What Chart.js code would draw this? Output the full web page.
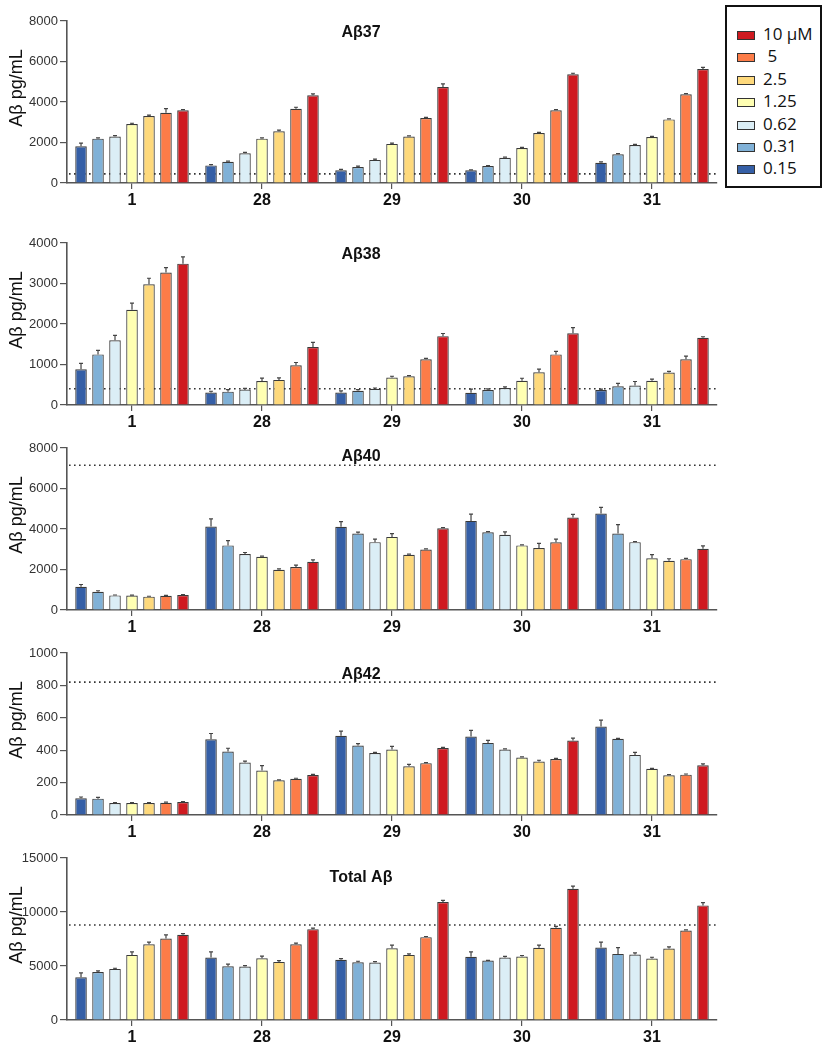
<!DOCTYPE html>
<html>
<head>
<meta charset="utf-8">
<script src="https://cdn.jsdelivr.net/npm/chart.js@4.4.1/dist/chart.umd.min.js"></script>
<style>
  body { margin: 0; background: #fff; }
  #wrap { position: relative; width: 830px; height: 1050px; }
  canvas { position: absolute; left: 0; }
  #legend { position: absolute; left: 725px; top: 5px; width: 93px; height: 179px;
            border: 2px solid #111; font-family: "Open Sans", sans-serif; font-size: 17px; color: #111; }
  .item { position: absolute; left: 10px; height: 22px; line-height: 22px; }
  .sw { position: absolute; left: 0; top: 7px; width: 16px; height: 7px; border: 1px solid #333; }
  .lb { position: absolute; left: 26px; top: -1px; white-space: pre; }
</style>
</head>
<body>
<div id="wrap">
  <canvas id="c0" width="720" height="207"></canvas>
  <canvas id="c1" width="720" height="207"></canvas>
  <canvas id="c2" width="720" height="207"></canvas>
  <canvas id="c3" width="720" height="207"></canvas>
  <canvas id="c4" width="720" height="207"></canvas>
  <div id="legend"></div>
</div>
<script>
// categories and doses
var groups = ['1', '28', '29', '30', '31'];
var doses = ['0.15', '0.31', '0.62', '1.25', '2.5', '5', '10 µM'];
var legendLabels = ['0.15', '0.31', '0.62', '1.25', '2.5', ' 5', '10 µM'];
var colors = ['#355fa6', '#80b1d7', '#dbeef6', '#ffffb3', '#fed97c', '#fc7c48', '#cf1a20'];

// values per group (row = compound, column = dose)
var ab37 = [
  [1810, 2190, 2300, 2910, 3310, 3470, 3590],
  [870, 1050, 1470, 2190, 2550, 3670, 4330],
  [630, 790, 1140, 1930, 2300, 3210, 4740],
  [630, 840, 1250, 1730, 2470, 3590, 5370],
  [1000, 1420, 1880, 2270, 3140, 4380, 5630]
];
var ab37err = [
  [160, 40, 40, 40, 40, 200, 30],
  [40, 30, 40, 40, 60, 70, 70],
  [40, 40, 40, 40, 30, 30, 160],
  [20, 20, 30, 30, 30, 30, 50],
  [40, 30, 30, 30, 30, 30, 80]
];
var ab38 = [
  [880, 1250, 1600, 2350, 2980, 3270, 3490],
  [310, 330, 380, 590, 620, 980, 1430],
  [310, 350, 400, 680, 710, 1130, 1700],
  [300, 370, 420, 600, 810, 1250, 1770],
  [370, 460, 480, 600, 800, 1130, 1660]
];
var ab38err = [
  [150, 100, 120, 165, 150, 120, 165],
  [30, 50, 30, 75, 50, 70, 115],
  [40, 30, 20, 30, 15, 20, 65],
  [90, 30, 30, 60, 75, 75, 140],
  [20, 75, 100, 40, 30, 75, 25]
];
var ab40 = [
  [1150, 900, 720, 710, 660, 700, 740],
  [4120, 3190, 2760, 2630, 1990, 2120, 2380],
  [4110, 3780, 3350, 3610, 2730, 2990, 4040],
  [4400, 3840, 3710, 3190, 3060, 3340, 4570],
  [4760, 3780, 3350, 2550, 2430, 2510, 3020]
];
var ab40err = [
  [110, 50, 20, 20, 20, 20, 20],
  [380, 240, 80, 30, 40, 100, 100],
  [250, 70, 150, 160, 30, 30, 30],
  [330, 30, 150, 30, 230, 160, 150],
  [310, 440, 30, 180, 100, 40, 150]
];
var ab42 = [
  [103, 101, 74, 74, 74, 76, 80],
  [468, 392, 324, 274, 214, 223, 247],
  [489, 429, 383, 404, 301, 320, 414],
  [485, 445, 404, 355, 330, 346, 460],
  [546, 470, 371, 285, 245, 249, 307]
];
var ab42err = [
  [8, 8, 3, 3, 3, 3, 3],
  [35, 20, 8, 31, 3, 4, 4],
  [29, 12, 3, 19, 12, 3, 3],
  [37, 16, 4, 4, 8, 3, 14],
  [40, 3, 15, 3, 4, 4, 8]
];
var abTotal = [
  [3960, 4450, 4730, 6030, 7020, 7550, 7890],
  [5780, 4980, 4950, 5720, 5380, 7020, 8410],
  [5570, 5350, 5320, 6650, 6030, 7670, 10920],
  [5850, 5500, 5780, 5880, 6680, 8540, 12150],
  [6710, 6120, 6060, 5690, 6620, 8290, 10610]
];
var abTotalErr = [
  [400, 90, 60, 280, 190, 340, 110],
  [520, 190, 90, 190, 120, 90, 90],
  [120, 90, 90, 280, 90, 60, 150],
  [460, 30, 120, 90, 250, 120, 250],
  [500, 590, 150, 120, 150, 60, 250]
];

var titles = ['Aβ37', 'Aβ38', 'Aβ40', 'Aβ42', 'Total Aβ'];
var refLines = [450, 400, 7150, 820, 8800];
var yMax = [8000, 4000, 8000, 1000, 15000];
var ySteps = [2000, 1000, 2000, 200, 5000];

var panels = [
  { values: ab37, errs: ab37err, top: 6, titleY: 12 },
  { values: ab38, errs: ab38err, top: 228, titleY: 12 },
  { values: ab40, errs: ab40err, top: 433, titleY: 9 },
  { values: ab42, errs: ab42err, top: 638, titleY: 22 },
  { values: abTotal, errs: abTotalErr, top: 843, titleY: 20 }
];

var fontFam = '"Liberation Sans", Arial, sans-serif';

// error bars, dotted line, panel title and y axis title
var extras = {
  id: 'extras',
  beforeDatasetsDraw: function (chart, args, opts) {
    var ctx = chart.ctx, a = chart.chartArea;
    var y = chart.scales.y.getPixelForValue(opts.refLine);
    ctx.save();
    ctx.strokeStyle = '#333';
    ctx.lineWidth = 1.6;
    ctx.setLineDash([1.6, 3.4]);
    ctx.beginPath();
    ctx.moveTo(a.left + 2, y);
    ctx.lineTo(a.right, y);
    ctx.stroke();
    ctx.restore();
  },
  afterDatasetsDraw: function (chart, args, opts) {
    var ctx = chart.ctx, ys = chart.scales.y;
    ctx.save();
    ctx.strokeStyle = '#444';
    ctx.lineWidth = 1.2;
    chart.data.datasets.forEach(function (ds, i) {
      chart.getDatasetMeta(i).data.forEach(function (bar, j) {
        var top = ys.getPixelForValue(ds.data[j] + ds.errs[j]);
        ctx.beginPath();
        ctx.moveTo(bar.x, bar.y);
        ctx.lineTo(bar.x, top);
        ctx.moveTo(bar.x - 2, top);
        ctx.lineTo(bar.x + 2, top);
        ctx.stroke();
      });
    });
    ctx.restore();
  },
  afterDraw: function (chart, args, opts) {
    var ctx = chart.ctx, a = chart.chartArea;
    ctx.save();
    ctx.fillStyle = '#111';
    ctx.font = 'bold 16px ' + fontFam;
    ctx.textAlign = 'center';
    ctx.textBaseline = 'middle';
    ctx.fillText(opts.title, 361, a.top + opts.titleY);
    ctx.translate(17, (a.top + a.bottom) / 2 - 14);
    ctx.rotate(-Math.PI / 2);
    ctx.font = '18px ' + fontFam;
    ctx.fillText('Aβ pg/mL', 0, 0);
    ctx.restore();
  }
};

panels.forEach(function (p, k) {
  var canvas = document.getElementById('c' + k);
  canvas.style.top = p.top + 'px';
  var datasets = doses.map(function (d, i) {
    return {
      label: d,
      data: p.values.map(function (row) { return row[i]; }),
      errs: p.errs.map(function (row) { return row[i]; }),
      backgroundColor: colors[i],
      borderColor: '#3a3a3a',
      borderWidth: 1.2,
      barPercentage: 0.68,
      categoryPercentage: 0.915
    };
  });
  new Chart(canvas, {
    type: 'bar',
    data: { labels: groups, datasets: datasets },
    plugins: [extras],
    options: {
      responsive: false,
      animation: false,
      layout: { padding: { top: 15, right: 3, left: 0, bottom: 0 } },
      plugins: {
        legend: { display: false },
        tooltip: { enabled: false },
        extras: { refLine: refLines[k], title: titles[k], titleY: p.titleY }
      },
      scales: {
        x: {
          afterFit: function (s) { s.height = 30; },
          grid: { display: true, drawOnChartArea: false, offset: false, tickLength: 6, color: '#555', lineWidth: 1.2 },
          border: { display: true, color: '#555', width: 1.6 },
          ticks: { color: '#111', padding: 2, font: { family: fontFam, size: 16, weight: 'bold' } }
        },
        y: {
          min: 0,
          max: yMax[k],
          afterFit: function (s) { s.width = 67; },
          grid: { display: true, drawOnChartArea: false, tickLength: 7, color: '#555', lineWidth: 1.2 },
          border: { display: true, color: '#555', width: 1.6 },
          ticks: {
            stepSize: ySteps[k], padding: 2, color: '#333',
            font: { family: fontFam, size: 13 },
            callback: function (v) { return String(v); }
          }
        }
      }
    }
  });
});

// legend (10 µM at the top)
var legend = document.getElementById('legend');
for (var i = doses.length - 1; i >= 0; i--) {
  var row = doses.length - 1 - i;
  var item = document.createElement('div');
  item.className = 'item';
  item.style.top = (17 + row * 22.4) + 'px';
  item.innerHTML = '<span class="sw" style="background:' + colors[i] + '"></span><span class="lb">' + legendLabels[i] + '</span>';
  legend.appendChild(item);
}
</script>
</body>
</html>
